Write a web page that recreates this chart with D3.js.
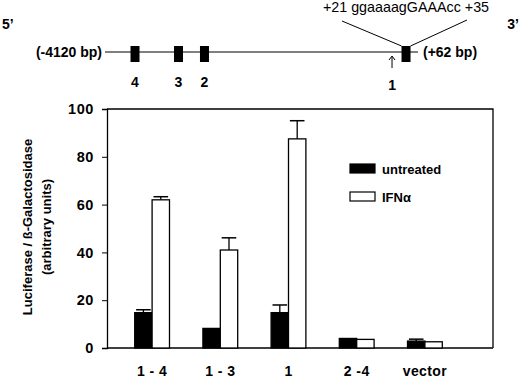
<!DOCTYPE html>
<html>
<head>
<meta charset="utf-8">
<script src="https://cdn.jsdelivr.net/npm/d3@7"></script>
<style>
  body { margin: 0; background: #fff; }
  svg { display: block; font-family: "Liberation Sans", Arial, sans-serif; }
</style>
</head>
<body>
<svg id="chart" width="520" height="379"></svg>
<script>
// promoter schematic
let siteLabels = ['4', '3', '2', '1'];
let sitePositions = [-3719, -3138, -2791, -98];   // bp
let promoterStart = -4120, promoterEnd = 62;

// bar chart
let categories = ['1 - 4', '1 - 3', '1', '2 -4', 'vector'];
let seriesNames = ['untreated', 'IFNα'];
let untreated = [14.8, 8.2, 14.8, 4.0, 2.9];
let untreatedErr = [1.2, 0, 3.2, 0, 0.8];
let ifn = [62.0, 41.0, 87.5, 3.6, 2.6];
let ifnErr = [1.3, 5.1, 7.6, 0, 0];
let yTicks = [0, 20, 40, 60, 80, 100];

let svg = d3.select('#chart');

// ---------- schematic ----------
let bp = d3.scaleLinear().domain([promoterStart, promoterEnd]).range([105, 418]);
let lineY = 52;

let schem = svg.append('g');

schem.append('line')
  .attr('x1', bp(promoterStart)).attr('x2', bp(promoterEnd))
  .attr('y1', lineY).attr('y2', lineY)
  .attr('stroke', '#000').attr('stroke-width', 1);

schem.append('text').attr('x', 2).attr('y', 29)
  .attr('font-weight', 'bold').attr('font-size', 14).text('5\u2019');
schem.append('text').attr('x', 519).attr('y', 29).attr('text-anchor', 'end')
  .attr('font-weight', 'bold').attr('font-size', 14).text('3\u2019');

schem.append('text').attr('x', bp(promoterStart) - 3).attr('y', lineY + 5)
  .attr('text-anchor', 'end').attr('font-weight', 'bold').attr('font-size', 14)
  .text('(-4120 bp)');
schem.append('text').attr('x', bp(promoterEnd) + 5).attr('y', lineY + 5)
  .attr('font-weight', 'bold').attr('font-size', 14)
  .text('(+62 bp)');

schem.selectAll('.site')
  .data(sitePositions)
  .enter()
  .append('rect')
  .attr('class', 'site')
  .attr('x', d => bp(d) - 4.5)
  .attr('y', lineY - 6)
  .attr('width', 9)
  .attr('height', 16)
  .attr('fill', '#000');

schem.selectAll('.site-label')
  .data(sitePositions)
  .enter()
  .append('text')
  .attr('class', 'site-label')
  .attr('x', (d, i) => i === 3 ? bp(d) - 14 : bp(d))
  .attr('y', (d, i) => i === 3 ? 90 : 87)
  .attr('text-anchor', 'middle')
  .attr('font-weight', 'bold')
  .attr('font-size', 14)
  .text((d, i) => siteLabels[i]);

// transcription start arrow
let tss = bp(sitePositions[3]) - 14;
schem.append('line').attr('x1', tss).attr('x2', tss).attr('y1', 57).attr('y2', 68)
  .attr('stroke', '#000').attr('stroke-width', 1);
schem.append('path').attr('d', `M${tss - 3},60 L${tss},56 L${tss + 3},60`)
  .attr('fill', 'none').attr('stroke', '#000').attr('stroke-width', 1);

// zoom lines to sequence
let s1 = bp(sitePositions[3]);
schem.append('line').attr('x1', s1 - 4.5).attr('y1', lineY - 6).attr('x2', 342).attr('y2', 21)
  .attr('stroke', '#000').attr('stroke-width', 1);
schem.append('line').attr('x1', s1 + 4.5).attr('y1', lineY - 6).attr('x2', 467).attr('y2', 20)
  .attr('stroke', '#000').attr('stroke-width', 1);
schem.append('text').attr('x', 406).attr('y', 12).attr('text-anchor', 'middle')
  .attr('font-size', 14.3).text('+21 ggaaaagGAAAcc +35');

// ---------- bar chart ----------
let plot = { left: 107, right: 493, top: 109, bottom: 348 };

let x = d3.scaleBand()
  .domain(categories)
  .range([118, 459])
  .paddingInner(0.49)
  .paddingOuter(0.245);

let sub = d3.scaleBand()
  .domain(seriesNames)
  .range([0, x.bandwidth()]);

let y = d3.scaleLinear()
  .domain([0, 100])
  .range([plot.bottom, plot.top]);

// frame (top and right)
svg.append('path')
  .attr('d', `M${plot.left},${plot.top} H${plot.right} V${plot.bottom}`)
  .attr('fill', 'none').attr('stroke', '#000').attr('stroke-width', 1.3);

// y axis
let yAxis = svg.append('g')
  .attr('transform', `translate(${plot.left},0)`)
  .call(d3.axisLeft(y).tickValues(yTicks).tickSize(5).tickPadding(8));
yAxis.select('.domain').attr('stroke-width', 1.3);
yAxis.selectAll('text')
  .attr('font-family', '"Liberation Sans", Arial, sans-serif')
  .attr('font-size', 14.5).attr('font-weight', 'bold').attr('fill', '#000')
  .attr('letter-spacing', 0.6);

// x axis
let xAxis = svg.append('g')
  .attr('transform', `translate(0,${plot.bottom})`)
  .call(d3.axisBottom(x).tickSize(0).tickPadding(18));
xAxis.select('.domain').remove();
svg.append('line')
  .attr('x1', plot.left).attr('x2', plot.right)
  .attr('y1', plot.bottom).attr('y2', plot.bottom)
  .attr('stroke', '#000').attr('stroke-width', 1.3);
xAxis.selectAll('text')
  .attr('font-family', '"Liberation Sans", Arial, sans-serif')
  .attr('font-size', 14).attr('font-weight', 'bold').attr('fill', '#000')
  .attr('letter-spacing', 0.4);

// y title
let yTitle = svg.append('text')
  .attr('transform', 'translate(0,227) rotate(-90)')
  .attr('text-anchor', 'middle')
  .attr('font-weight', 'bold')
  .attr('font-size', 13);
yTitle.append('tspan').attr('x', 0).attr('y', 32).text('Luciferase / \u00DF-Galactosidase');
yTitle.append('tspan').attr('x', 0).attr('y', 51).text('(arbitrary units)');

// bars
let series = [
  { name: seriesNames[0], values: untreated, err: untreatedErr, fill: '#000' },
  { name: seriesNames[1], values: ifn, err: ifnErr, fill: '#fff' }
];

series.forEach(s => {
  let g = svg.append('g');
  let bw = sub.bandwidth();
  categories.forEach((c, i) => {
    let x0 = x(c) + sub(s.name);
    let v = s.values[i];
    if (s.err[i] > 0) {
      let cx = x0 + bw / 2;
      g.append('line')
        .attr('x1', cx).attr('x2', cx)
        .attr('y1', y(v)).attr('y2', y(v + s.err[i]))
        .attr('stroke', '#000').attr('stroke-width', 1.3);
      g.append('line')
        .attr('x1', cx - bw * 0.42).attr('x2', cx + bw * 0.42)
        .attr('y1', y(v + s.err[i])).attr('y2', y(v + s.err[i]))
        .attr('stroke', '#000').attr('stroke-width', 1.5);
    }
    g.append('rect')
      .attr('x', x0)
      .attr('y', y(v))
      .attr('width', bw)
      .attr('height', y(0) - y(v))
      .attr('fill', s.fill)
      .attr('stroke', '#000')
      .attr('stroke-width', 1.3);
  });
});

// legend
let legend = svg.selectAll('.legend')
  .data(series)
  .enter()
  .append('g')
  .attr('class', 'legend')
  .attr('transform', (d, i) => `translate(350,${164 + i * 28})`);
legend.append('rect')
  .attr('width', 25).attr('height', 9)
  .attr('fill', d => d.fill).attr('stroke', '#000').attr('stroke-width', 1.2);
legend.append('text')
  .attr('x', 32).attr('y', 9.5)
  .attr('font-weight', 'bold').attr('font-size', 13)
  .text(d => d.name);
</script>
</body>
</html>
